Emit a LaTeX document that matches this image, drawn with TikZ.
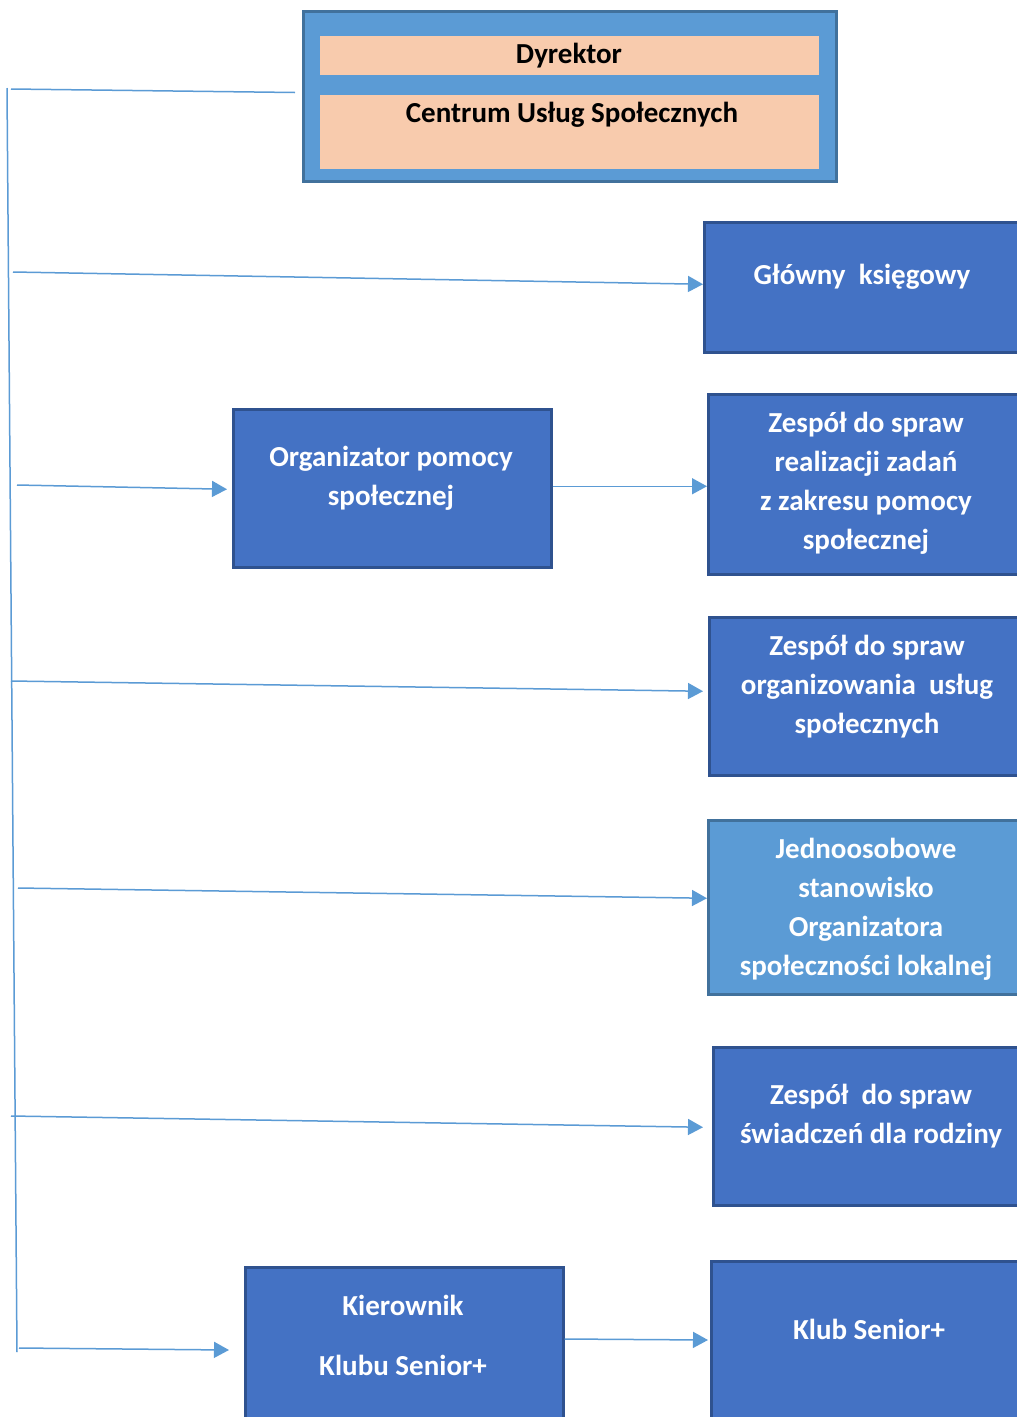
\documentclass[tikz,border=0pt]{standalone}
\usepackage{fontspec}
\setmainfont{Carlito}
\usetikzlibrary{arrows.meta,calc}
\definecolor{boxblue}{HTML}{4472C4}
\definecolor{boxedge}{HTML}{2F528F}
\definecolor{lightblue}{HTML}{5B9BD5}
\definecolor{lightedge}{HTML}{41719C}
\definecolor{peach}{HTML}{F8CBAD}
\definecolor{lineblue}{HTML}{5B9BD5}
\begin{document}
\begin{tikzpicture}[x=1pt,y=-1pt,
  box/.style={draw=boxedge,fill=boxblue,line width=2.5pt,rectangle,inner sep=0pt,anchor=north west},
  lbox/.style={box,draw=lightedge,fill=lightblue},
  pbox/.style={rectangle,fill=peach,inner sep=0pt,anchor=north west},
  wlabel/.style={text=white,font=\fontsize{29}{39}\selectfont\bfseries,align=center,inner sep=0pt},
  blabel/.style={text=black,font=\fontsize{29}{39}\selectfont\bfseries,align=center,inner sep=0pt},
  conn/.style={draw=lineblue,line width=1.5pt},
  arr/.style={conn,-{Triangle[length=15pt,width=16pt]}}]
\useasboundingbox[fill=white] (0,0) rectangle (1017,1417);
\clip (0,0) rectangle (1017,1417);

% top box
\node[lbox,line width=3pt,minimum width=533pt,minimum height=170pt] (top) at (302,10) {};
\node[pbox,minimum width=499pt,minimum height=39pt] (dyr) at (320,36) {};
\node[pbox,minimum width=499pt,minimum height=74pt] (cus) at (320,95) {};
\node[blabel] (tdyr) at (569,56) {Dyrektor};
\node[blabel] (tcus) at (572,115) {Centrum Usług Społecznych};

% boxes
\node[box,minimum width=330pt,minimum height=130pt] (gk) at (703,221) {};
\node[box,minimum width=318pt,minimum height=158pt] (org) at (232,408) {};
\node[box,minimum width=330pt,minimum height=180pt] (z1) at (707,393) {};
\node[box,minimum width=330pt,minimum height=158pt] (z2) at (708,616) {};
\node[lbox,minimum width=330pt,minimum height=174pt] (jed) at (707,819) {};
\node[box,minimum width=330pt,minimum height=158pt] (z3) at (712,1046) {};
\node[box,minimum width=318pt,minimum height=200pt] (kier) at (244,1266) {};
\node[box,minimum width=330pt,minimum height=200pt] (klub) at (710,1260) {};

% labels
\node[wlabel] (tgk) at (862,277) {Główny~~księgowy};
\node[wlabel] (torg) at (391,478) {Organizator pomocy\\społecznej};
\node[wlabel] (tz1) at (866,483) {Zespół do spraw\\realizacji zadań\\z zakresu pomocy\\społecznej};
\node[wlabel] (tz2) at (867,687) {Zespół do spraw\\organizowania~~usług\\społecznych};
\node[wlabel] (tjed) at (866,909) {Jednoosobowe\\stanowisko\\Organizatora\\społeczności lokalnej};
\node[wlabel] (tz3) at (871,1116) {Zespół~~do spraw\\świadczeń dla rodziny};
\node[wlabel] (tkier) at (403,1335) {Kierownik\\[21pt]Klubu Senior+};
\node[wlabel] (tklub) at (869,1329) {Klub Senior+};

% connector lines
\coordinate (vtop) at (7,88);
\coordinate (vbot) at (17,1352);
\draw[conn] (vtop) -- (vbot);
\coordinate (h0) at (11,89);
\draw[conn] (h0) -- ($(top.west)+(-7,-4)$);
\coordinate (h1) at (13,272);
\draw[arr] (h1) -- ($(gk.west)+(0,-3)$);
\coordinate (h2) at (17,485);
\draw[arr] (h2) -- ($(org.west)+(-5,1)$);
\draw[arr] ($(org.east)+(0,-2)$) -- ($(z1.west)+(0,2)$);
\coordinate (h3) at (11,681);
\draw[arr] (h3) -- ($(z2.west)+(-5,-5)$);
\coordinate (h4) at (18,888);
\draw[arr] (h4) -- ($(jed.west)+(0,-9)$);
\coordinate (h5) at (11,1116);
\draw[arr] (h5) -- ($(z3.west)+(-9,1)$);
\coordinate (h6) at (19,1348);
\draw[arr] (h6) -- ($(kier.north west)+(-15,84)$);
\draw[arr] ($(kier.north east)+(0,73)$) -- ($(klub.north west)+(-2,80)$);
\end{tikzpicture}
\end{document}
